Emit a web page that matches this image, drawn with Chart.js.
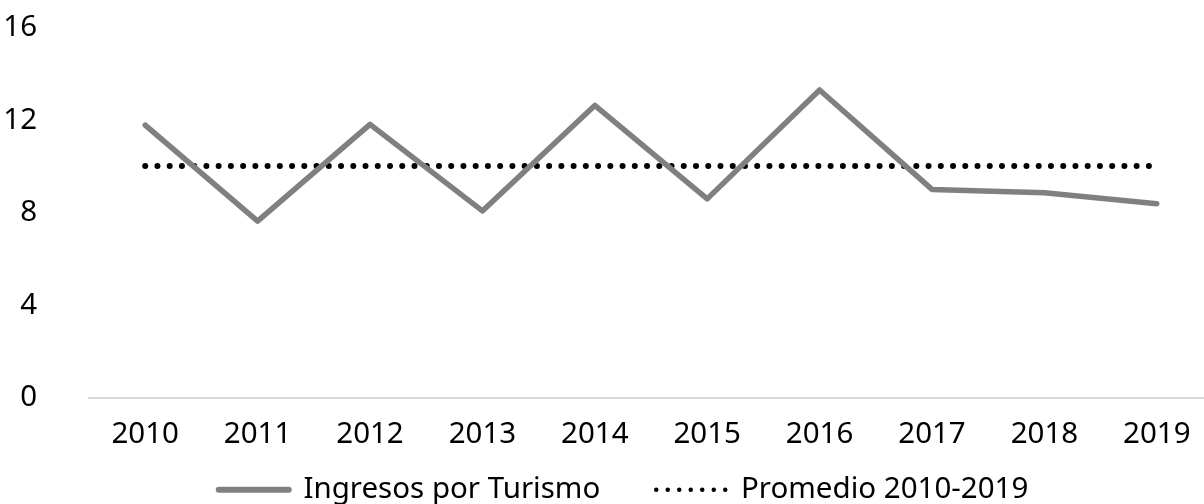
<!DOCTYPE html>
<html>
<head>
<meta charset="utf-8">
<script src="https://cdn.jsdelivr.net/npm/chart.js@4"></script>
<style>
  html, body { margin: 0; padding: 0; background: #fff; overflow: hidden; }
  #wrap { position: absolute; left: 0; top: 0; width: 1213px; height: 504px; }
</style>
</head>
<body>
<div id="wrap"><canvas id="c" width="1213" height="504"></canvas></div>
<script>
const categories = ['2010','2011','2012','2013','2014','2015','2016','2017','2018','2019'];
const ingresos = [11.80, 7.65, 11.83, 8.09, 12.65, 8.61, 13.32, 9.02, 8.88, 8.40];
const promedio = [10.03, 10.03, 10.03, 10.03, 10.03, 10.03, 10.03, 10.03, 10.03, 10.03];
const seriesNames = ['Ingresos por Turismo', 'Promedio 2010-2019'];
const yTicks = [0, 4, 8, 12, 16];

const FONT = { family: "'Noto Sans', sans-serif", size: 29.5 };

const legendTweak = {
  id: 'legendTweak',
  afterLayout(chart) {
    const lg = chart.legend;
    if (!lg) return;
    lg.left = 34;
    lg.top = 419;
    lg.bottom = 504;
  }
};

new Chart(document.getElementById('c'), {
  type: 'line',
  data: {
    labels: categories,
    datasets: [
      {
        label: seriesNames[0],
        data: ingresos,
        borderColor: '#808080',
        backgroundColor: '#808080',
        borderWidth: 5.5,
        borderCapStyle: 'round',
        borderJoinStyle: 'round',
        pointRadius: 0,
        tension: 0
      },
      {
        label: seriesNames[1],
        data: promedio,
        borderColor: '#000000',
        backgroundColor: '#000000',
        borderWidth: 6,
        borderDash: [0, 12.24],
        borderCapStyle: 'round',
        pointRadius: 0,
        tension: 0
      }
    ]
  },
  plugins: [legendTweak],
  options: {
    responsive: false,
    animation: false,
    devicePixelRatio: 1,
    layout: { padding: { left: 0, top: 28, right: 0, bottom: 0 } },
    plugins: {
      tooltip: { enabled: false },
      legend: {
        position: 'bottom',
        maxHeight: 55,
        labels: {
          usePointStyle: true,
          pointStyle: 'line',
          pointStyleWidth: 70,
          padding: 56,
          color: '#000',
          font: FONT,
          generateLabels: (chart) => {
            const items = Chart.defaults.plugins.legend.labels.generateLabels(chart);
            items.forEach((it) => {
              const ds = chart.data.datasets[it.datasetIndex];
              it.lineDash = ds.borderDash ? [0, 11.5] : [];
              it.lineCap = ds.borderCapStyle || 'butt';
              it.lineWidth = ds.borderDash ? 4.5 : 6;
              it.strokeStyle = ds.borderColor;
              it.fillStyle = ds.borderColor;
            });
            return items;
          }
        }
      }
    },
    scales: {
      x: {
        offset: true,
        grid: { display: false, drawTicks: false },
        border: { display: true, color: '#d9d9d9', width: 2 },
        ticks: { color: '#000', font: FONT, padding: 18.5, maxRotation: 0, autoSkip: false },
        afterFit: (s) => { s.height = 51; }
      },
      y: {
        min: 0,
        max: 16,
        afterBuildTicks: (s) => { s.ticks = yTicks.map(v => ({ value: v })); },
        grid: { display: false, drawTicks: false },
        border: { display: false },
        ticks: { color: '#000', font: FONT, padding: 52 },
        afterFit: (s) => { s.width = 89; s.paddingTop = 17; s.paddingBottom = 17; }
      }
    }
  }
});
</script>
</body>
</html>
